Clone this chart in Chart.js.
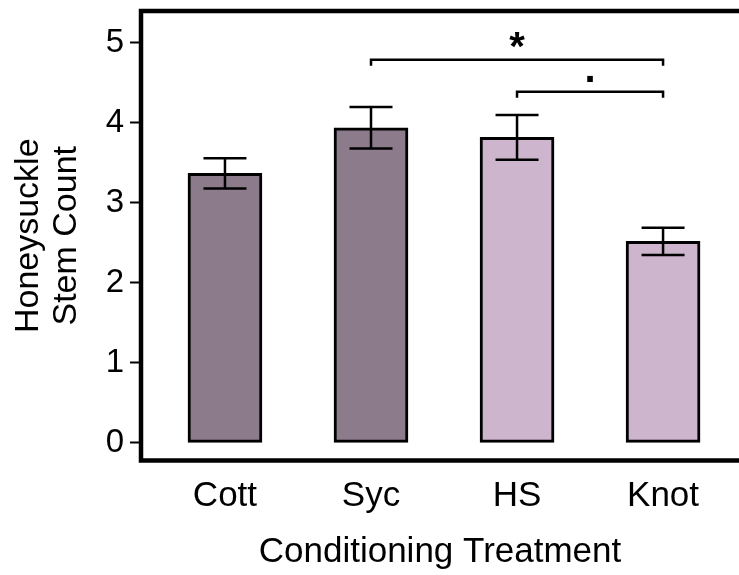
<!DOCTYPE html>
<html>
<head>
<meta charset="utf-8">
<script src="https://cdn.jsdelivr.net/npm/chart.js@4/dist/chart.umd.min.js"></script>
<style>
  html, body { margin: 0; padding: 0; background: #ffffff; overflow: hidden; }
  #wrap { position: relative; width: 739px; height: 575px; }
</style>
</head>
<body>
<div id="wrap"><canvas id="c"></canvas></div>
<script>
// Honeysuckle stem counts by conditioning treatment (mean ± SE)
const categories = ['Cott', 'Syc', 'HS', 'Knot'];
const means = [3.37, 3.94, 3.82, 2.52];
const stdErr = [0.19, 0.26, 0.28, 0.17];
const barColors = ['#8B7B8B', '#8B7B8B', '#CDB5CD', '#CDB5CD'];
const yTicks = [0, 1, 2, 3, 4, 5];

// Pairwise comparisons shown above the bars
const compFrom = [1, 2];
const compTo = [3, 3];
const compHeight = [4.79, 4.39];
const compLabel = ['*', '.'];

const FONT = '"Liberation Sans", Arial, Helvetica, sans-serif';

const frame = {
  id: 'frame',
  afterDraw(chart) {
    const { ctx, chartArea: a } = chart;
    ctx.save();
    ctx.strokeStyle = '#000';
    ctx.lineWidth = 4.5;
    ctx.beginPath();
    ctx.rect(a.left, a.top, a.right + 10 - a.left, a.bottom - a.top);
    ctx.stroke();
    ctx.restore();
  }
};

const errorBars = {
  id: 'errorBars',
  afterDatasetsDraw(chart) {
    const { ctx, scales: { x, y } } = chart;
    ctx.save();
    ctx.strokeStyle = '#000';
    ctx.lineWidth = 2.5;
    means.forEach((m, i) => {
      const px = x.getPixelForValue(i + 1);
      const hi = y.getPixelForValue(m + stdErr[i]);
      const lo = y.getPixelForValue(m - stdErr[i]);
      const half = 21.5;
      ctx.beginPath();
      ctx.moveTo(px, hi); ctx.lineTo(px, lo);
      ctx.moveTo(px - half, hi); ctx.lineTo(px + half, hi);
      ctx.moveTo(px - half, lo); ctx.lineTo(px + half, lo);
      ctx.stroke();
    });
    ctx.restore();
  }
};

const brackets = {
  id: 'brackets',
  afterDatasetsDraw(chart) {
    const { ctx, scales: { x, y } } = chart;
    ctx.save();
    ctx.strokeStyle = '#000';
    ctx.fillStyle = '#000';
    ctx.lineWidth = 2.5;
    compHeight.forEach((h, k) => {
      const x1 = x.getPixelForValue(compFrom[k] + 1);
      const x2 = x.getPixelForValue(compTo[k] + 1);
      const py = y.getPixelForValue(h);
      const drop = 6;
      ctx.beginPath();
      ctx.moveTo(x1, py + drop);
      ctx.lineTo(x1, py);
      ctx.lineTo(x2, py);
      ctx.lineTo(x2, py + drop);
      ctx.stroke();
      const lbl = compLabel[k];
      ctx.font = 'bold 40px ' + FONT;
      ctx.textAlign = 'center';
      ctx.textBaseline = 'alphabetic';
      const m = ctx.measureText(lbl);
      const gap = lbl === '*' ? 12 : 10;
      ctx.fillText(lbl, (x1 + x2) / 2, py - gap - m.actualBoundingBoxDescent);
    });
    ctx.restore();
  }
};

new Chart(document.getElementById('c'), {
  type: 'bar',
  data: {
    datasets: [{
      data: means.map((m, i) => ({ x: i + 1, y: m })),
      backgroundColor: barColors,
      borderColor: '#000',
      borderWidth: 3,
      borderSkipped: false,
      barThickness: 74
    }]
  },
  options: {
    responsive: true,
    maintainAspectRatio: false,
    devicePixelRatio: 1,
    animation: false,
    layout: { padding: { top: 11, left: 0, right: 0, bottom: 0 } },
    plugins: { legend: { display: false }, tooltip: { enabled: false } },
    scales: {
      x: {
        type: 'linear',
        offset: false,
        min: 0.425,
        max: 4.52,
        grid: { display: false, offset: false },
        border: { display: false },
        afterFit(s) { s.height = 114.5; s.paddingLeft = 0; s.paddingRight = 0; },
        afterBuildTicks(s) { s.ticks = categories.map((c, i) => ({ value: i + 1 })); },
        ticks: {
          autoSkip: false,
          maxRotation: 0,
          color: '#000',
          padding: 7,
          font: { family: FONT, size: 35 },
          callback: (v, i) => categories[i]
        },
        title: {
          display: true,
          text: 'Conditioning Treatment',
          color: '#000',
          font: { family: FONT, size: 35 },
          padding: { top: 0, bottom: 2 }
        }
      },
      y: {
        min: -0.22,
        max: 5.4,
        grid: { drawOnChartArea: false, color: '#000', tickLength: 11, tickWidth: 2 },
        border: { display: false },
        afterFit(s) { s.width = 141; s.paddingTop = 0; s.paddingBottom = 0; },
        afterBuildTicks(s) { s.ticks = yTicks.map(v => ({ value: v })); },
        ticks: {
          color: '#000',
          padding: 6,
          font: { family: FONT, size: 33 },
          callback: v => String(v)
        },
        title: {
          display: true,
          text: ['Honeysuckle', 'Stem Count'],
          color: '#000',
          font: { family: FONT, size: 34, lineHeight: 1.12 },
          padding: { top: 10, bottom: 0 }
        }
      }
    }
  },
  plugins: [frame, errorBars, brackets]
});
</script>
</body>
</html>
